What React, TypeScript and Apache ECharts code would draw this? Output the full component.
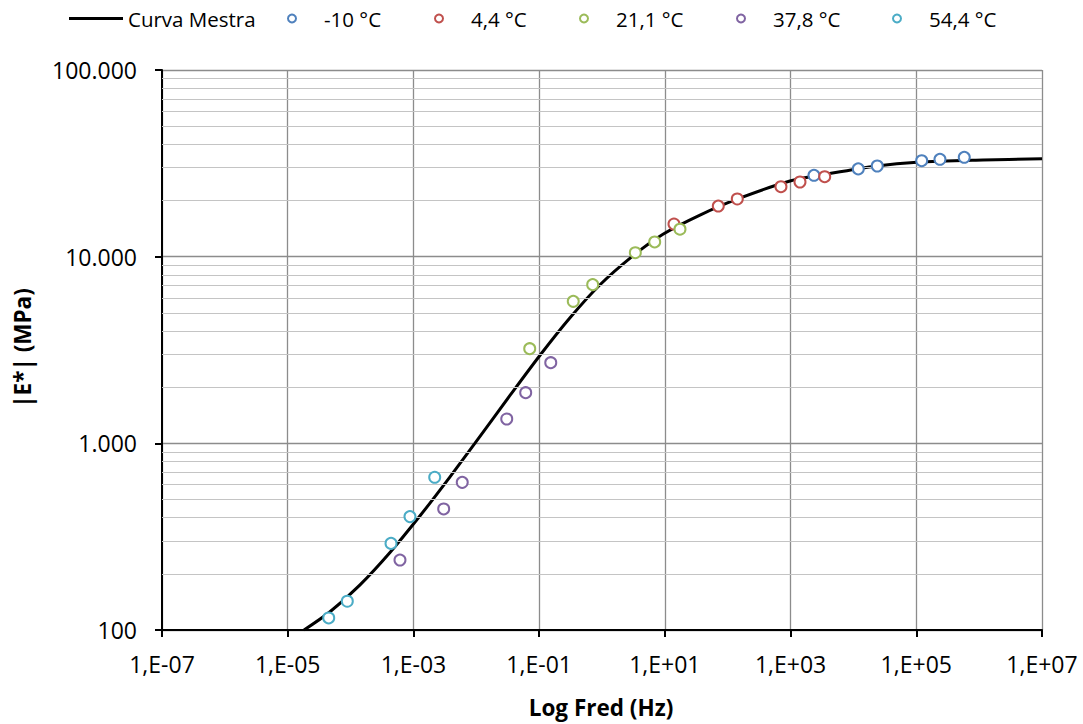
import React, { useEffect, useRef } from "react";
import * as echarts from "echarts";

// Tick labels of the x axis (one every two decades)
const xTickLabels = ["1,E-07", "1,E-05", "1,E-03", "1,E-01", "1,E+01", "1,E+03", "1,E+05", "1,E+07"];
// Minor horizontal gridlines (2..9 in each decade)
const minorGridValues = [
  200, 300, 400, 500, 600, 700, 800, 900,
  2000, 3000, 4000, 5000, 6000, 7000, 8000, 9000,
  20000, 30000, 40000, 50000, 60000, 70000, 80000, 90000,
];

// Master curve
const curveFreq = [1.815e-5, 4.71e-5, 1.413e-4, 4.236e-4, 1.274e-3, 3.82e-3, 9.55e-3, 0.03434, 0.1033, 0.3097, 0.929, 3.0, 9.33, 36.2, 140.6, 979, 4236, 23710, 102600, 1.151e6, 1e7];
const curveModulus = [100, 125.2, 174.6, 260.4, 409.2, 661.9, 1003, 1805, 2965, 4707, 7072, 10014, 13190, 16710, 20330, 25430, 27890, 30610, 32030, 32950, 33480];

// -10 °C
const freqM10 = [2356, 11940, 23930, 121900, 238000, 579700];
const modM10 = [27290, 29520, 30600, 32660, 33240, 34070];
// 4,4 °C
const freq44 = [13.97, 70.8, 142, 703, 1412, 3490];
const mod44 = [14960, 18670, 20370, 23700, 25120, 26810];
// 21,1 °C
const freq211 = [0.0708, 0.349, 0.711, 3.39, 6.89, 17.4];
const mod211 = [3214, 5765, 7080, 10500, 11990, 14030];
// 37,8 °C
const freq378 = [6.11e-4, 3.03e-3, 5.98e-3, 0.0305, 0.0611, 0.153];
const mod378 = [237, 445, 618, 1350, 1868, 2704];
// 54,4 °C
const freq544 = [4.49e-5, 8.87e-5, 4.40e-4, 8.81e-4, 2.18e-3];
const mod544 = [116, 142.6, 291, 405, 658];

const FONT = '"Open Sans", "Noto Sans", sans-serif';

const zip = (xs: number[], ys: number[]) => xs.map((x, i) => [x, ys[i]]);

const scatterSeries = (name: string, color: string, xs: number[], ys: number[]) => ({
  name,
  type: "scatter",
  xAxisIndex: 0,
  yAxisIndex: 0,
  symbol: "emptyCircle",
  symbolSize: 11,
  itemStyle: { color, borderColor: color, borderWidth: 1.7, opacity: 1 },
  data: zip(xs, ys),
  z: 5,
});

const legendAt = (name: string, left: number, icon?: string) => ({
  data: [icon ? { name, icon } : name],
  left,
  top: 8,
  padding: 0,
  itemWidth: 54,
  itemHeight: icon ? 3 : 8,
  itemGap: 0,
  textStyle: { fontFamily: FONT, fontSize: 20.5, color: "#000", lineHeight: 20 },
});

export default function App() {
  const ref = useRef<HTMLDivElement>(null);
  useEffect(() => {
    if (!ref.current) return;
    const chart = echarts.init(ref.current, undefined, { renderer: "svg" });
    const option = {
      animation: false,
      backgroundColor: "#fff",
      grid: { left: 162, right: 41, top: 70, bottom: 94, containLabel: false },
      legend: [
        legendAt("Curva Mestra", 69, "rect"),
        legendAt("-10 °C", 287),
        legendAt("4,4 °C", 434),
        legendAt("21,1 °C", 579),
        legendAt("37,8 °C", 736),
        legendAt("54,4 °C", 892),
      ],
      xAxis: [
        {
          type: "log",
          logBase: 10,
          min: 1e-7,
          max: 1e7,
          position: "top",
          show: false,
        },
        {
          type: "category",
          data: xTickLabels,
          boundaryGap: false,
          position: "bottom",
          axisLine: { show: true, lineStyle: { color: "#000", width: 2 } },
          axisTick: { show: true, length: 7, lineStyle: { color: "#000", width: 2 } },
          axisLabel: { fontFamily: FONT, fontSize: 23, color: "#000", margin: 22 },
          splitLine: { show: true, lineStyle: { color: "#8c8c8c", width: 1.3 } },
        },
      ],
      yAxis: {
        type: "log",
        logBase: 10,
        min: 100,
        max: 100000,
        axisLine: { show: true, lineStyle: { color: "#000", width: 2 } },
        axisTick: { show: true, length: 7, lineStyle: { color: "#000", width: 2 } },
        axisLabel: {
          fontFamily: FONT,
          fontSize: 23,
          color: "#000",
          margin: 25,
          formatter: (v: number) => String(Math.round(v)).replace(/\B(?=(\d{3})+(?!\d))/g, "."),
        },
        splitLine: { show: true, lineStyle: { color: "#8c8c8c", width: 1.3 } },
      },
      graphic: [
        {
          type: "text",
          x: 601,
          y: 707,
          style: {
            text: "Log Fred (Hz)",
            fontFamily: FONT,
            fontWeight: "bold",
            fontSize: 22.5,
            lineHeight: 22,
            fill: "#000",
            align: "center",
            verticalAlign: "middle",
          },
        },
        {
          type: "text",
          x: 22,
          y: 348,
          rotation: Math.PI / 2,
          style: {
            text: "|E*| (MPa)",
            fontFamily: FONT,
            fontWeight: "bold",
            fontSize: 22.5,
            lineHeight: 22,
            fill: "#000",
            align: "center",
            verticalAlign: "middle",
          },
        },
      ],
      series: [
        {
          name: "minor-grid",
          type: "line",
          xAxisIndex: 0,
          yAxisIndex: 0,
          data: [],
          silent: true,
          z: 1,
          markLine: {
            silent: true,
            symbol: ["none", "none"],
            label: { show: false },
            lineStyle: { color: "#c4c4c4", width: 1.2, type: "solid" },
            emphasis: { disabled: true },
            data: minorGridValues.map((v) => ({ yAxis: v })),
          },
        },
        {
          name: "Curva Mestra",
          type: "line",
          xAxisIndex: 0,
          yAxisIndex: 0,
          data: zip(curveFreq, curveModulus),
          smooth: 0.3,
          symbol: "none",
          showSymbol: false,
          lineStyle: { color: "#000", width: 3 },
          itemStyle: { color: "#000" },
          z: 3,
        },
        scatterSeries("-10 °C", "#4F81BD", freqM10, modM10),
        scatterSeries("4,4 °C", "#C0504D", freq44, mod44),
        scatterSeries("21,1 °C", "#9BBB59", freq211, mod211),
        scatterSeries("37,8 °C", "#8064A2", freq378, mod378),
        scatterSeries("54,4 °C", "#4BACC6", freq544, mod544),
      ],
    };
    chart.setOption(option as any);
    return () => chart.dispose();
  }, []);
  return (
    <div
      ref={ref}
      style={{ position: "absolute", left: 0, top: 0, width: 1083, height: 724, background: "#fff" }}
    />
  );
}
